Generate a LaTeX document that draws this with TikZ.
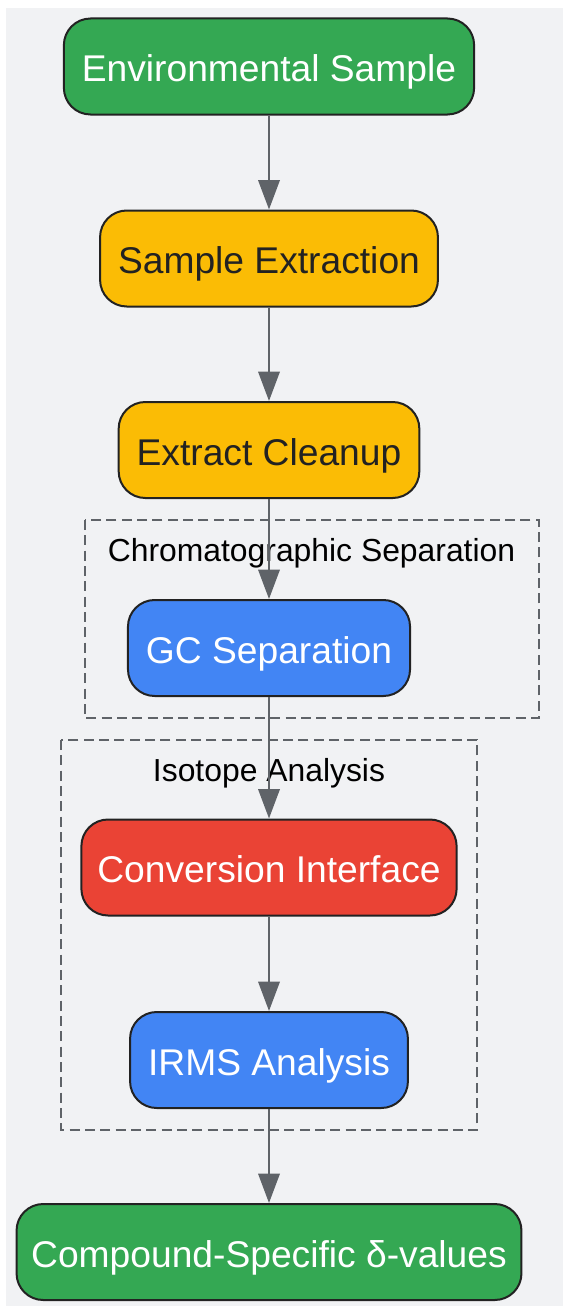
\documentclass[tikz,border=0pt]{standalone}
\usepackage{fontspec}
\setmainfont{Liberation Sans}
\usetikzlibrary{arrows.meta}
\definecolor{bggray}{HTML}{F1F2F4}
\definecolor{envgreen}{HTML}{34A853}
\definecolor{prepyellow}{HTML}{FBBC05}
\definecolor{gcblue}{HTML}{4285F4}
\definecolor{convred}{HTML}{EA4335}
\definecolor{boxline}{HTML}{222222}
\definecolor{edgegray}{HTML}{5F6368}
\definecolor{clustergray}{HTML}{5F6368}
\definecolor{darktext}{HTML}{222222}
\begin{document}
\begin{tikzpicture}[x=0.75pt,y=-0.75pt,
    box/.style={draw=boxline,line width=1.5pt,rounded corners=20pt,
      minimum height=72pt,inner xsep=13.5pt,text height=24pt,text depth=1.5pt,
      font=\fontsize{27.9}{33}\selectfont},
    cluster/.style={draw=clustergray,line width=1.8pt,dash pattern=on 7.5pt off 4pt},
    clusterlabel/.style={anchor=base,inner sep=0pt,font=\fontsize{23.9}{28}\selectfont}]
  \useasboundingbox (0,0) rectangle (563,1306);
  \fill[bggray] (6,8) rectangle (563,1306);
  \draw[cluster] (85,520) rectangle (539,718);
  \draw[cluster] (61,740) rectangle (477,1130);
  \draw
    (311.5,561) node[clusterlabel] (chromlabel) {Chromatographic Separation}
    (269,781.5) node[clusterlabel] (isolabel) {Isotope Analysis};
  \draw
    (269,66.5) node[box,fill=envgreen,text=white] (sample) {Environmental Sample}
    (269,258.5) node[box,fill=prepyellow,text=darktext] (extract) {Sample Extraction}
    (269,450) node[box,fill=prepyellow,text=darktext] (cleanup) {Extract Cleanup}
    (269,648) node[box,fill=gcblue,text=white] (gc) {GC Separation}
    (269,867.5) node[box,fill=convred,text=white,inner xsep=12pt] (conv) {Conversion Interface}
    (269,1060) node[box,fill=gcblue,text=white] (irms) {IRMS Analysis}
    (269,1252) node[box,fill=envgreen,text=white,inner xsep=11pt] (delta) {Compound-Specific δ-values};
  \begin{scope}[-{Triangle[length=22pt,width=16pt]},draw=edgegray,line width=1.8pt]
    \draw (sample) to (extract);
    \draw (extract) to (cleanup);
    \draw (cleanup) to (gc);
    \draw (gc) to (conv);
    \draw (conv) to (irms);
    \draw (irms) to (delta);
  \end{scope}
\end{tikzpicture}
\end{document}
